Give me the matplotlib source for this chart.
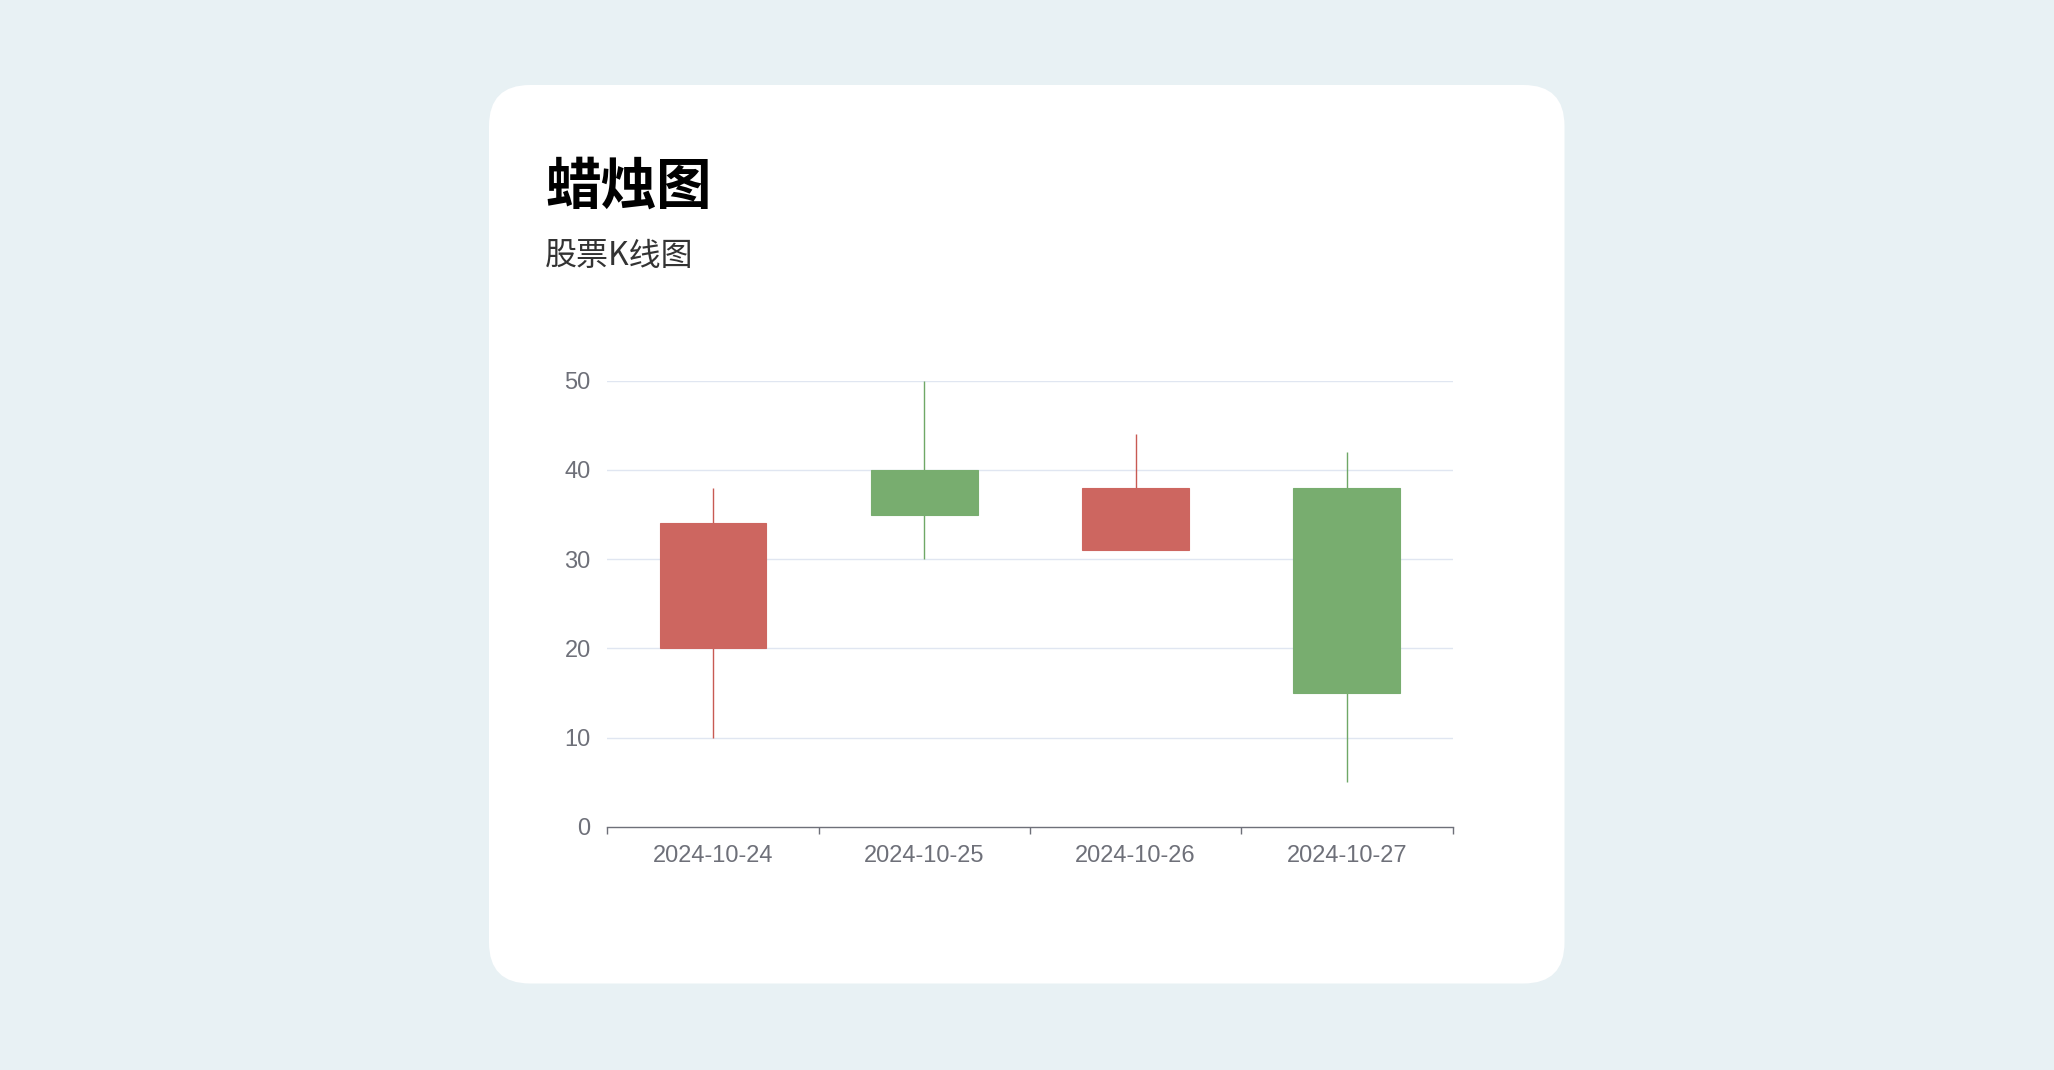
import matplotlib
matplotlib.use("Agg")
import matplotlib.pyplot as plt
from matplotlib.patches import FancyBboxPatch
import numpy as np

plt.rcParams['font.family'] = ['Noto Sans CJK SC', 'DejaVu Sans']

# Data (ECharts-style [open, close, low, high])
dates = ["2024-10-24", "2024-10-25", "2024-10-26", "2024-10-27"]
open_ = [20, 40, 31, 38]
close = [34, 35, 38, 15]
low = [10, 30, 33, 5]
high = [38, 50, 44, 42]
yticks = [0, 10, 20, 30, 40, 50]

title = "蜡烛图"
subtitle = "股票K线图"

UP_COLOR = "#cd6660"
UP_WICK = "#c85a53"
DOWN_COLOR = "#78ad6f"
DOWN_WICK = "#6fa866"
BG = "#e8f1f4"
GRID = "#e0e6f1"
AXIS = "#6e7079"
TICK_FONT = ['Liberation Sans', 'DejaVu Sans']

W, H = 2054, 1070
fig = plt.figure(figsize=(W / 100, H / 100), dpi=100)
fig.patch.set_facecolor(BG)

# background card
bg_ax = fig.add_axes([0, 0, 1, 1])
bg_ax.set_xlim(0, W)
bg_ax.set_ylim(H, 0)
bg_ax.axis("off")
card = FancyBboxPatch((489, 85), 1564.5 - 489, 983.5 - 85,
                      boxstyle="round,pad=0,rounding_size=41",
                      facecolor="white", edgecolor="none")
bg_ax.add_patch(card)
bg_ax.text(545, 188, title, fontsize=40, fontweight="bold", color="#000000",
           va="center", ha="left")
bg_ax.text(545, 256, subtitle, fontsize=23, color="#333333",
           va="center", ha="left")

# chart axes
left_px, right_px = 607.3, 1452.5
top_px, bottom_px = 380.7, 826.7
ax = fig.add_axes([left_px / W, 1 - bottom_px / H,
                   (right_px - left_px) / W, (bottom_px - top_px) / H])
ax.set_facecolor("none")

x = np.arange(len(dates))
for i in x:
    up = close[i] >= open_[i]
    body_c = UP_COLOR if up else DOWN_COLOR
    wick_c = UP_WICK if up else DOWN_WICK
    ax.vlines(i, low[i], high[i], color=wick_c, linewidth=1.0, zorder=2)
    b = min(open_[i], close[i])
    h = abs(close[i] - open_[i])
    ax.bar(i, h, bottom=b, width=0.505, color=body_c, edgecolor=body_c,
           linewidth=0.8, zorder=3)

ax.set_xlim(-0.5, len(dates) - 0.5)
ax.set_ylim(0, 50)

for yv in yticks[1:]:
    ax.axhline(yv, color=GRID, linewidth=1.0, zorder=1)

for s in ["top", "right", "left"]:
    ax.spines[s].set_visible(False)
ax.spines["bottom"].set_color(AXIS)
ax.spines["bottom"].set_linewidth(1.0)
ax.spines["bottom"].set_zorder(4)

ax.set_yticks(yticks)
ax.set_yticklabels([str(v) for v in yticks], family=TICK_FONT)
ax.tick_params(axis="y", length=0, pad=12, labelsize=17, labelcolor=AXIS)

ax.set_xticks(np.arange(len(dates) + 1) - 0.5)
ax.set_xticklabels([])
ax.set_xticks(x, minor=True)
ax.set_xticklabels(dates, minor=True, family=TICK_FONT)
ax.tick_params(axis="x", which="major", length=5, width=1.0, color=AXIS, direction="out")
ax.tick_params(axis="x", which="minor", length=0, pad=13, labelsize=17, labelcolor=AXIS)

fig.savefig("out.png", dpi=100, facecolor=BG)
